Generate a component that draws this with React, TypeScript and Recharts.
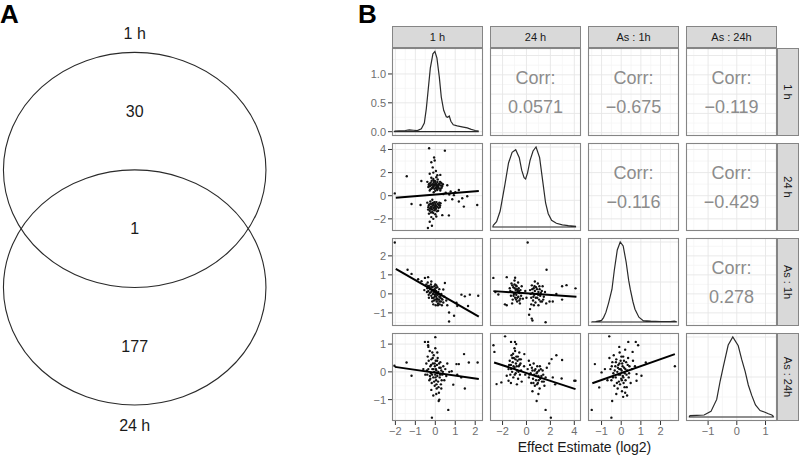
import React from 'react';
import { ScatterChart, Scatter, XAxis, YAxis, CartesianGrid } from 'recharts';

const FONT = '"Liberation Sans", Arial, Helvetica, sans-serif';

// ---------- Panel A : Venn diagram ----------
const vennSets = [
  { name: '1 h', x: 0, y: 0.5, rx: 1.117, ry: 1.0 },
  { name: '24 h', x: 0, y: -0.5, rx: 1.117, ry: 1.0 },
];
const vennLabels = [
  { x: 0, y: 1.663, text: '1 h' },
  { x: 0, y: 0.995, text: '30' },
  { x: 0, y: 0, text: '1' },
  { x: 0, y: -1.005, text: '177' },
  { x: 0, y: -1.674, text: '24 h' },
];
const VENN_XDOM: [number, number] = [-1.1464, 1.1515];
const VENN_YDOM: [number, number] = [-1.943, 1.946];

// ---------- Panel B : scatter-plot matrix ----------
const variables = ['1 h', '24 h', 'As : 1h', 'As : 24h'];
const domains: [number, number][] = [[-2.17, 2.39], [-3.05, 4.56], [-1.69, 2.94], [-1.77, 1.40]];
const majorTicks = [[-2, -1, 0, 1, 2], [-2, 0, 2, 4], [-1, 0, 1, 2], [-1, 0, 1]];
const minorTicks = [[-1.5, -0.5, 0.5, 1.5], [-3, -1, 1, 3], [-1.5, -0.5, 0.5, 1.5, 2.5], [-1.5, -0.5, 0.5]];

const corrValues = [
  { row: 0, col: 1, value: 0.0571 },
  { row: 0, col: 2, value: -0.675 },
  { row: 0, col: 3, value: -0.119 },
  { row: 1, col: 2, value: -0.116 },
  { row: 1, col: 3, value: -0.429 },
  { row: 2, col: 3, value: 0.278 },
];

// densities (diagonal)
const density1 = [[-2.05,0.01],[-1.8,0.015],[-1.5,0.02],[-1.3,0.03],[-1.1,0.025],[-0.9,0.02],[-0.7,0.05],[-0.55,0.15],[-0.45,0.4],[-0.35,0.75],[-0.25,1.1],[-0.12,1.35],[-0.02,1.39],[0.08,1.28],[0.2,0.95],[0.3,0.6],[0.42,0.37],[0.55,0.26],[0.62,0.25],[0.7,0.27],[0.78,0.18],[0.9,0.12],[1.1,0.1],[1.4,0.08],[1.6,0.065],[1.8,0.04],[2.0,0.02],[2.15,0.01]];
const density2 = [[-2.8,0.005],[-2.5,0.02],[-2.2,0.06],[-1.8,0.16],[-1.5,0.24],[-1.2,0.28],[-0.9,0.29],[-0.6,0.26],[-0.4,0.213],[-0.2,0.185],[-0.07,0.18],[0.1,0.205],[0.3,0.25],[0.55,0.285],[0.8,0.30],[1.1,0.26],[1.35,0.175],[1.6,0.09],[1.82,0.05],[2.1,0.025],[2.5,0.014],[3.0,0.008],[3.5,0.005],[4.1,0.003]];
const density3 = [[-1.5,0.003],[-1.3,0.005],[-1.0,0.02],[-0.9,0.055],[-0.78,0.12],[-0.64,0.24],[-0.47,0.41],[-0.35,0.65],[-0.2,0.9],[-0.05,1.0],[0.1,0.95],[0.25,0.75],[0.38,0.52],[0.46,0.41],[0.6,0.25],[0.7,0.16],[0.9,0.06],[1.12,0.016],[1.5,0.01],[2.0,0.005],[2.5,0.005],[2.7,0.01],[2.8,0.003]];
const density4 = [[-1.65,0.016],[-1.4,0.02],[-1.14,0.025],[-0.9,0.07],[-0.7,0.22],[-0.58,0.45],[-0.47,0.63],[-0.3,0.9],[-0.14,1.0],[0.05,0.89],[0.17,0.72],[0.29,0.57],[0.4,0.4],[0.52,0.27],[0.65,0.15],[0.81,0.08],[0.98,0.06],[1.1,0.04],[1.22,0.025],[1.27,0.01]];

// scatter points (lower triangle)
const pts21 = [[-0.35,0.75],[-0.3,1.05],[-0.25,0.55],[-0.22,0.9],[-0.18,1.3],[-0.15,0.68],[-0.12,1.0],[-0.1,0.82],[-0.08,1.15],[-0.05,0.6],[-0.02,0.95],[0,1.25],[0.02,0.72],[0.05,1.05],[0.08,0.85],[0.1,0.5],[0.12,1.4],[0.15,0.78],[0.18,1.0],[0.2,0.62],[0.24,1.2],[0.28,0.88],[0.32,0.7],[0.38,1.0],[-0.28,0.45],[0.0,0.42],[0.25,0.45],[-0.4,1.2],[0.05,1.6],[-0.2,1.55],
  [-0.27,0.82],[-0.23,1.12],[-0.17,0.95],[-0.13,0.72],[-0.07,1.3],[-0.04,0.88],[0.01,1.08],[0.04,0.65],[0.07,0.95],[0.11,1.18],[0.13,0.7],[0.16,0.9],[0.21,1.05],[0.27,0.6],[0.3,1.1],[-0.33,0.95],[-0.19,0.6],[0.09,0.55],[0.35,0.85],[-0.1,1.45],
  [-0.31,4.1],[-0.06,3.3],[-0.03,3.05],[-0.2,2.9],[-0.13,2.45],[0.03,2.14],[-0.28,1.9],[0.1,1.77],[0.25,1.8],[-0.1,2.0],
  [0.48,3.9],[-1.43,1.68],[-0.7,1.28],[-2.03,0.2],[-1.19,-0.71],[-0.74,-0.8],
  [-0.4,-0.6],[-0.35,-1.0],[-0.3,-0.75],[-0.28,-1.3],[-0.25,-0.5],[-0.22,-0.95],[-0.2,-1.15],[-0.18,-0.7],[-0.15,-1.4],[-0.12,-0.85],[-0.1,-1.05],[-0.08,-0.6],[-0.05,-1.25],[-0.02,-0.9],[0,-0.72],[0.03,-1.1],[0.06,-0.55],[0.1,-0.95],[0.14,-1.3],[0.18,-0.8],[0.22,-1.0],[0.26,-0.65],[-0.32,-1.55],[0.0,-1.6],[-0.15,-0.35],
  [-0.33,-0.85],[-0.27,-1.1],[-0.24,-0.7],[-0.19,-0.95],[-0.16,-1.2],[-0.13,-0.62],[-0.09,-0.8],[-0.06,-1.05],[-0.03,-0.55],[0.01,-1.2],[0.04,-0.85],[0.08,-1.35],[0.12,-0.7],[0.16,-1.05],[0.2,-0.6],[-0.36,-1.2],[-0.1,-1.5],[0.24,-0.85],[-0.22,-1.45],[0.0,-1.0],
  [-0.37,-2.79],[-0.17,-2.6],[-0.28,-2.25],[-0.1,-2.0],[-0.2,-1.85],[0.05,-1.8],
  [0.52,0.27],[0.77,0.36],[0.93,0.05],[1.18,0.5],[1.35,-0.22],[1.6,-0.05],[1.18,-0.5],[1.43,-0.94],[2.1,-0.8],[0.6,0.9],[0.35,-1.68],[0.68,-1.7],[-0.08,0.3],[0.5,-0.4],[0.4,0.15],[0.7,0.1],[1.0,0.3],[0.85,-0.3]];
const pts31 = [[-2.03,2.7],[-1.39,1.27],[-1.19,1.05],[-0.52,0.84],[-0.36,0.88],[-0.69,0.67],[-0.86,0.77],
  [0.69,-0.98],[0.94,-1.15],[0.69,-1.45],[1.06,-0.47],[1.31,-0.04],[1.48,-0.13],[1.73,-0.04],[2.15,-0.1],[1.1,-0.64],[1.64,-0.64],[0.4,0.23],[0.48,0.57],
  [-0.45,0.5],[-0.4,0.3],[-0.38,0.6],[-0.35,0.15],[-0.3,0.4],[-0.28,0.05],[-0.25,0.25],[-0.22,0.5],[-0.2,-0.1],[-0.18,0.15],[-0.15,0.35],[-0.12,0.0],[-0.1,0.2],[-0.08,-0.2],[-0.06,0.1],[-0.05,0.4],[-0.03,-0.05],[-0.02,0.2],[0,-0.3],[0.02,0.0],[0.04,0.15],[0.05,-0.15],[0.07,-0.4],[0.08,0.05],[0.1,-0.25],[0.12,-0.05],[0.14,-0.5],[0.15,0.1],[0.18,-0.3],[0.2,-0.15],[0.22,-0.55],[0.25,-0.2],[0.28,-0.4],[0.3,0.0],[0.33,-0.6],[0.36,-0.3],[0.4,-0.45],[0.45,-0.15],[-0.15,-0.4],[-0.32,-0.2],[0.0,0.5],[-0.1,-0.55],[0.1,0.35],[0.55,-0.35],[0.6,-0.6],[-0.55,0.2],[0.2,0.25],[0.02,-0.6],
  [-0.42,0.1],[-0.36,0.42],[-0.33,-0.05],[-0.27,0.3],[-0.23,0.08],[-0.19,0.38],[-0.16,-0.22],[-0.13,0.2],[-0.09,0.05],[-0.07,-0.35],[-0.04,0.25],[-0.01,-0.12],[0.03,0.32],[0.06,-0.28],[0.09,-0.05],[0.13,-0.6],[0.17,0.0],[0.21,-0.4],[0.26,-0.1],[0.32,-0.25],[0.0,0.1],[-0.2,0.65],[0.12,-0.3],[0.05,0.45]];
const pts32 = [[-1.4,0.3],[-1.3,-0.1],[-1.25,0.55],[-1.2,0.1],[-1.15,-0.3],[-1.1,0.35],[-1.05,0.0],[-1.0,0.7],[-0.95,-0.2],[-0.9,0.2],[-0.88,0.45],[-0.85,-0.05],[-0.8,0.25],[-0.78,-0.4],[-0.75,0.1],[-0.7,0.6],[-0.68,-0.15],[-0.65,0.3],[-0.6,0.05],[-0.55,-0.5],[-0.5,0.2],[-0.45,-0.1],[-0.4,0.4],[-0.3,-0.25],[-0.95,0.85],[-1.2,-0.5],[-0.6,-0.35],
  [-1.35,0.15],[-1.18,0.45],[-1.08,-0.1],[-0.98,0.3],[-0.92,0.05],[-0.83,0.4],[-0.77,-0.2],[-0.72,0.2],[-0.62,0.15],[-0.52,-0.25],[-0.87,-0.3],[-1.0,0.5],
  [0.3,0.2],[0.4,-0.2],[0.45,0.45],[0.5,0.05],[0.55,-0.35],[0.6,0.3],[0.65,-0.05],[0.7,0.15],[0.75,-0.45],[0.8,0.35],[0.85,0.0],[0.9,-0.2],[0.95,0.55],[1.0,0.1],[1.05,-0.3],[1.1,0.25],[1.15,-0.1],[1.2,0.05],[1.3,-0.4],[1.35,0.4],[1.45,-0.15],[1.55,0.1],[1.65,-0.5],[0.7,0.65],[0.4,-0.55],[1.0,-0.6],
  [0.35,0.0],[0.48,0.25],[0.58,-0.15],[0.68,0.4],[0.78,-0.2],[0.88,0.25],[0.98,-0.05],[1.08,0.4],[1.18,-0.4],[1.28,0.15],[1.4,-0.3],[0.62,-0.6],
  [0.1,2.7],[1.68,1.27],[-2.77,0.84],[-1.65,0.88],[1.6,-1.49],[0.3,-0.8],[0.22,-1.1],[0.44,-1.3],[0.5,-1.4],[2.98,0.4],[3.35,0.46],[4.1,0.29],[2.98,-0.3],[2.5,0.0],[2.2,-0.4],[1.93,-0.4],[-2.35,-0.03],[-1.8,-0.55],[-1.65,-0.6],[-0.1,0.15],[0.0,-0.2],[-2.6,0.1]];
const pts41 = [[-0.45,0.3],[-0.4,-0.1],[-0.38,0.55],[-0.35,0.1],[-0.3,-0.3],[-0.28,0.75],[-0.25,0.2],[-0.22,-0.05],[-0.2,0.45],[-0.18,-0.4],[-0.15,0.1],[-0.12,0.3],[-0.1,-0.2],[-0.08,0.6],[-0.05,0.0],[-0.03,-0.5],[-0.02,0.2],[0,-0.1],[0.02,0.4],[0.04,-0.3],[0.05,0.05],[0.07,-0.6],[0.08,0.25],[0.1,-0.15],[0.12,0.5],[0.14,-0.35],[0.15,0.0],[0.18,-0.75],[0.2,0.15],[0.22,-0.2],[0.25,0.35],[0.28,-0.45],[0.3,0.05],[0.35,-0.1],[0.4,0.2],[0.45,-0.3],[0.5,0.1],[-0.2,-0.65],[0.0,0.85],[-0.1,-0.85],[0.3,-0.6],[-0.35,0.9],[0.1,0.7],[0.55,-0.15],[-0.25,-0.25],[0.2,-1.0],
  [-0.42,0.05],[-0.33,0.4],[-0.27,-0.15],[-0.21,0.25],[-0.16,-0.1],[-0.13,0.5],[-0.09,0.1],[-0.06,-0.35],[-0.03,0.3],[0.01,-0.2],[0.03,0.1],[0.06,-0.45],[0.09,0.4],[0.11,-0.05],[0.16,-0.55],[0.19,0.3],[0.24,-0.1],[0.27,0.15],[0.32,-0.3],[0.38,0.0],[-0.15,0.7],[0.05,-0.8],
  [0,1.25],[-0.52,1.08],[-0.36,1.08],[-0.36,0.96],[-1.44,0.34],[-1.19,-0.14],[-2.05,0.22],[1.44,0.64],[1.06,0.28],[1.18,0.28],[1.68,0.34],[2.12,0.34],[1.48,-0.6],[0.65,-1.37],[-0.17,-1.65],[0.17,-1.05],[0.82,0.02],[0.9,-0.46],[1.1,-0.1],[0.7,0.0],[0.6,0.3],[-0.6,0.1],[-0.5,-0.1],[1.3,-0.2]];
const pts42 = [[-1.5,0.1],[-1.4,0.4],[-1.35,-0.1],[-1.3,0.25],[-1.25,0.6],[-1.2,0.0],[-1.15,0.35],[-1.1,-0.2],[-1.05,0.5],[-1.0,0.15],[-0.95,0.75],[-0.9,-0.05],[-0.88,0.3],[-0.85,0.55],[-0.8,0.05],[-0.75,0.4],[-0.7,-0.25],[-0.65,0.2],[-0.6,0.45],[-0.55,-0.1],[-0.5,0.3],[-0.45,0.05],[-0.4,-0.35],[-1.0,0.85],[-0.8,-0.45],[-1.3,-0.4],[-0.6,0.7],
  [-1.45,0.25],[-1.28,0.1],[-1.18,0.5],[-1.08,0.2],[-0.98,-0.1],[-0.92,0.45],[-0.82,0.2],[-0.72,0.55],[-0.67,0.0],[-0.57,0.25],[-0.47,0.45],[-1.12,0.65],
  [0.1,0.1],[0.2,-0.2],[0.3,0.25],[0.35,-0.05],[0.4,-0.4],[0.5,0.05],[0.55,-0.25],[0.6,0.3],[0.65,-0.1],[0.7,-0.5],[0.75,0.1],[0.8,-0.3],[0.85,-0.05],[0.9,0.2],[0.95,-0.4],[1.0,-0.15],[1.05,0.05],[1.1,-0.6],[1.15,-0.25],[1.2,0.1],[1.3,-0.35],[1.4,-0.1],[1.5,-0.5],[1.6,-0.2],[1.7,0.15],[0.5,-0.7],[1.0,-0.8],[0.2,0.4],
  [0.25,-0.1],[0.45,0.15],[0.58,-0.4],[0.68,0.05],[0.78,-0.15],[0.88,-0.45],[0.92,0.0],[1.02,-0.3],[1.12,0.2],[1.25,-0.15],[1.35,0.05],[1.45,-0.35],
  [-1.79,1.28],[-1.29,1.08],[-0.96,1.08],[-2.76,0.96],[-2.68,0.72],[-0.86,1.0],[-0.18,0.64],[2.1,0.46],[2.5,0.6],[2.98,0.43],[4.0,-0.32],[4.1,-0.32],[2.94,-0.24],[0.85,-1.05],[1.6,-1.37],[2.04,-1.65],[-2.5,-0.44],[-2.1,-0.38],[-1.65,-0.14],[-1.5,-0.32],[2.2,-0.2],[1.9,0.3],[2.4,-0.45],[-0.2,0.2],[-0.1,-0.1]];
const pts43 = [[-0.55,0.1],[-0.5,-0.3],[-0.45,0.35],[-0.4,-0.05],[-0.38,0.6],[-0.35,-0.5],[-0.3,0.2],[-0.28,-0.2],[-0.25,0.45],[-0.2,0.0],[-0.18,-0.6],[-0.15,0.25],[-0.12,-0.35],[-0.1,0.1],[-0.08,0.7],[-0.05,-0.1],[-0.03,0.4],[0,-0.25],[0.02,0.05],[0.04,-0.7],[0.05,0.3],[0.08,-0.15],[0.1,0.55],[0.12,-0.4],[0.15,0.15],[0.18,-0.05],[0.2,0.8],[0.22,-0.3],[0.25,0.35],[0.28,-0.55],[0.3,0.05],[0.35,0.5],[0.38,-0.2],[0.42,0.2],[0.48,-0.4],[0.55,0.1],[0.6,0.4],[-0.25,-0.8],[0.1,-0.9],[-0.6,0.5],[0.3,-0.85],
  [-0.48,0.2],[-0.42,-0.2],[-0.33,0.05],[-0.27,0.35],[-0.22,-0.4],[-0.17,0.15],[-0.13,-0.1],[-0.09,0.3],[-0.06,-0.45],[-0.02,0.1],[0.01,0.55],[0.03,-0.3],[0.07,0.2],[0.11,-0.2],[0.14,0.4],[0.17,-0.55],[0.21,0.1],[0.27,-0.1],[0.33,0.25],[0.4,-0.05],[-0.1,0.9],[0.2,-0.75],
  [-0.61,1.28],[0.36,1.08],[0.74,1.08],[0.86,0.96],[0.58,0.72],[-1.34,0.28],[2.73,0.2],[1.25,0.34],[-1.12,-0.56],[-1.5,-1.37],[-0.5,-1.65],[-0.46,-1.05],[-1.0,-0.02],[-0.83,0.1],[0.78,-0.08],[1.03,-0.14],[0.78,-0.32],[0.7,0.2],[-0.7,-0.3]];

// linear fits (endpoints)
const fit21 = [[-1.98,-0.17],[2.18,0.4]];
const fit31 = [[-1.98,1.31],[2.18,-1.2]];
const fit32 = [[-2.77,0.145],[4.18,-0.145]];
const fit41 = [[-2.03,0.18],[2.18,-0.26]];
const fit42 = [[-2.71,0.34],[4.1,-0.62]];
const fit43 = [[-1.47,-0.41],[2.73,0.64]];

// ---------- layout ----------
const COL_X = [392, 490, 588, 686];
const ROW_Y = [48, 143, 238, 333];
const PW = 91;
const PH = 88;
const YW = 40;
const XH = 24;
const PAD = 8;
const STRIP_TOP = 26;
const STRIP_H = 22;
const STRIP_R = 777;
const BORDER = '#858585';

const toXY = (a: number[][]) => a.map(([x, y]) => ({ x, y }));
const closeDensity = (a: number[][]) => {
  const pts = toXY(a);
  return [...pts, { x: pts[pts.length - 1].x, y: 0 }, { x: pts[0].x, y: 0 }, pts[0]];
};
const fmtMinus = (v: number) => (v < 0 ? '\u2212' : '') + Math.abs(v);
const fmtOne = (v: number) => v.toFixed(1);

const dot = (p: any) => <circle cx={p.cx} cy={p.cy} r={1.2} fill="#111" />;
const noDot = () => <g />;

type PanelProps = {
  row: number;
  col: number;
  yDomain: [number, number];
  yMajor: number[];
  yMinor: number[];
  yFmt?: (v: number) => string;
  children?: React.ReactNode;
};

function Panel({ row, col, yDomain, yMajor, yMinor, yFmt, children }: PanelProps) {
  const showY = col === 0;
  const showX = row === 3;
  const w = PW + (showY ? YW : 0);
  const h = PH + 2 * PAD + (showX ? XH : 0);
  const tickStyle = { fill: '#6e6e6e', fontSize: 11, fontFamily: FONT };
  return (
    <div style={{ position: 'absolute', left: COL_X[col] - (showY ? YW : 0), top: ROW_Y[row] - PAD }}>
      <ScatterChart width={w} height={h} margin={{ top: PAD, right: 0, bottom: PAD, left: 0 }}>
        <XAxis
          type="number"
          dataKey="x"
          domain={domains[col]}
          allowDataOverflow
          ticks={majorTicks[col]}
          interval={0}
          hide={!showX}
          height={XH}
          tickSize={4}
          tickMargin={2}
          axisLine={false}
          tickLine={{ stroke: '#333' }}
          tick={tickStyle}
          tickFormatter={fmtMinus}
        />
        <YAxis
          type="number"
          dataKey="y"
          domain={yDomain}
          allowDataOverflow
          ticks={yMajor}
          interval={0}
          hide={!showY}
          width={YW}
          tickSize={4}
          tickMargin={2}
          axisLine={false}
          tickLine={{ stroke: '#333' }}
          tick={tickStyle}
          tickFormatter={yFmt || fmtMinus}
        />
        <CartesianGrid horizontalValues={yMinor} verticalValues={minorTicks[col]} stroke="#f3f3f3" strokeWidth={0.7} />
        <CartesianGrid horizontalValues={yMajor} verticalValues={majorTicks[col]} stroke="#e6e6e6" strokeWidth={0.9} />
        {children}
      </ScatterChart>
    </div>
  );
}

function ScatterPanel({ row, col, pts, fit }: { row: number; col: number; pts: number[][]; fit: number[][] }) {
  return (
    <Panel row={row} col={col} yDomain={domains[row]} yMajor={majorTicks[row]} yMinor={minorTicks[row]}>
      <Scatter data={toXY(pts)} shape={dot} isAnimationActive={false} />
      <Scatter data={toXY(fit)} shape={noDot} line={{ stroke: '#000', strokeWidth: 2 }} lineType="joint" isAnimationActive={false} />
    </Panel>
  );
}

function DensityPanel({ idx, dens, yDomain, yMajor, yMinor, yFmt }: { idx: number; dens: number[][]; yDomain: [number, number]; yMajor: number[]; yMinor: number[]; yFmt?: (v: number) => string }) {
  return (
    <Panel row={idx} col={idx} yDomain={yDomain} yMajor={yMajor} yMinor={yMinor} yFmt={yFmt}>
      <Scatter data={closeDensity(dens)} shape={noDot} line={{ stroke: '#2b2b2b', strokeWidth: 1.2 }} lineType="joint" isAnimationActive={false} />
    </Panel>
  );
}

function CorrPanel({ row, col }: { row: number; col: number }) {
  return (
    <Panel row={row} col={col} yDomain={domains[row]} yMajor={majorTicks[row]} yMinor={minorTicks[row]}>
      <Scatter data={[]} shape={noDot} isAnimationActive={false} />
    </Panel>
  );
}

const VENN_W = 270;
const VENN_H = 457;
const VENN_UNIT = VENN_H / (VENN_YDOM[1] - VENN_YDOM[0]);

const ellipseShape = (p: any) => (
  <ellipse cx={p.cx} cy={p.cy} rx={p.payload.rx * VENN_UNIT} ry={p.payload.ry * VENN_UNIT} fill="none" stroke="#2a2a2a" strokeWidth={1.1} />
);
const vennTextShape = (p: any) => (
  <text x={p.cx} y={p.cy + 5.7} textAnchor="middle" fontSize={16} fontFamily={FONT} fill="#1a1a1a">
    {p.payload.text}
  </text>
);

function Venn() {
  return (
    <div style={{ position: 'absolute', left: 0, top: 0 }}>
      <ScatterChart width={VENN_W} height={VENN_H} margin={{ top: 0, right: 0, bottom: 0, left: 0 }}>
        <XAxis type="number" dataKey="x" domain={VENN_XDOM} hide allowDataOverflow />
        <YAxis type="number" dataKey="y" domain={VENN_YDOM} hide allowDataOverflow />
        <Scatter data={vennSets} shape={ellipseShape} isAnimationActive={false} />
        <Scatter data={vennLabels} shape={vennTextShape} isAnimationActive={false} />
      </ScatterChart>
    </div>
  );
}

function Overlay() {
  return (
    <svg width={800} height={457} style={{ position: 'absolute', left: 0, top: 0, pointerEvents: 'none' }} fontFamily={FONT}>
      <text x={0} y={23.3} fontSize={26} fontWeight="bold" fill="#000">A</text>
      <text x={358} y={23.3} fontSize={26} fontWeight="bold" fill="#000">B</text>
      {variables.map((v, i) => (
        <g key={'ts' + i}>
          <rect x={COL_X[i] + 0.5} y={STRIP_TOP + 0.5} width={PW - 1} height={STRIP_H - 1} fill="#d9d9d9" stroke={BORDER} strokeWidth={1} />
          <text x={COL_X[i] + PW / 2} y={STRIP_TOP + STRIP_H / 2 + 3.9} textAnchor="middle" fontSize={11} fill="#1a1a1a">{v}</text>
        </g>
      ))}
      {variables.map((v, i) => {
        const cx = STRIP_R + STRIP_H / 2;
        const cy = ROW_Y[i] + PH / 2;
        return (
          <g key={'rs' + i}>
            <rect x={STRIP_R + 0.5} y={ROW_Y[i] + 0.5} width={STRIP_H - 1} height={PH - 1} fill="#d9d9d9" stroke={BORDER} strokeWidth={1} />
            <text x={cx} y={cy + 3.9} textAnchor="middle" fontSize={11} fill="#1a1a1a" transform={`rotate(90 ${cx} ${cy})`}>{v}</text>
          </g>
        );
      })}
      {ROW_Y.map((y, r) =>
        COL_X.map((x, c) => (
          <rect key={'b' + r + c} x={x + 0.5} y={y + 0.5} width={PW - 1} height={PH - 1} fill="none" stroke={BORDER} strokeWidth={1.1} />
        ))
      )}
      {corrValues.map((cv) => {
        const cx = COL_X[cv.col] + PW / 2;
        const y0 = ROW_Y[cv.row];
        return (
          <g key={'c' + cv.row + cv.col}>
            <text x={cx} y={y0 + 36} textAnchor="middle" fontSize={18} fill="#8c8c8c">Corr:</text>
            <text x={cx} y={y0 + 65} textAnchor="middle" fontSize={18} fill="#8c8c8c">{fmtMinus(cv.value)}</text>
          </g>
        );
      })}
      <text x={584.5} y={451.5} textAnchor="middle" fontSize={14} fill="#1a1a1a">Effect Estimate (log2)</text>
    </svg>
  );
}

export default function App() {
  return (
    <div style={{ position: 'absolute', left: 0, top: 0, width: 800, height: 457, background: '#fff', fontFamily: FONT, overflow: 'hidden' }}>
      <Venn />
      <DensityPanel idx={0} dens={density1} yDomain={[-0.075, 1.45]} yMajor={[0, 0.5, 1]} yMinor={[0.25, 0.75, 1.25]} yFmt={fmtOne} />
      <CorrPanel row={0} col={1} />
      <CorrPanel row={0} col={2} />
      <CorrPanel row={0} col={3} />
      <ScatterPanel row={1} col={0} pts={pts21} fit={fit21} />
      <DensityPanel idx={1} dens={density2} yDomain={[-0.015, 0.315]} yMajor={[0, 0.1, 0.2, 0.3]} yMinor={[0.05, 0.15, 0.25]} />
      <CorrPanel row={1} col={2} />
      <CorrPanel row={1} col={3} />
      <ScatterPanel row={2} col={0} pts={pts31} fit={fit31} />
      <ScatterPanel row={2} col={1} pts={pts32} fit={fit32} />
      <DensityPanel idx={2} dens={density3} yDomain={[-0.05, 1.05]} yMajor={[0, 0.5, 1]} yMinor={[0.25, 0.75]} />
      <CorrPanel row={2} col={3} />
      <ScatterPanel row={3} col={0} pts={pts41} fit={fit41} />
      <ScatterPanel row={3} col={1} pts={pts42} fit={fit42} />
      <ScatterPanel row={3} col={2} pts={pts43} fit={fit43} />
      <DensityPanel idx={3} dens={density4} yDomain={[-0.05, 1.05]} yMajor={[0, 0.5, 1]} yMinor={[0.25, 0.75]} />
      <Overlay />
    </div>
  );
}
